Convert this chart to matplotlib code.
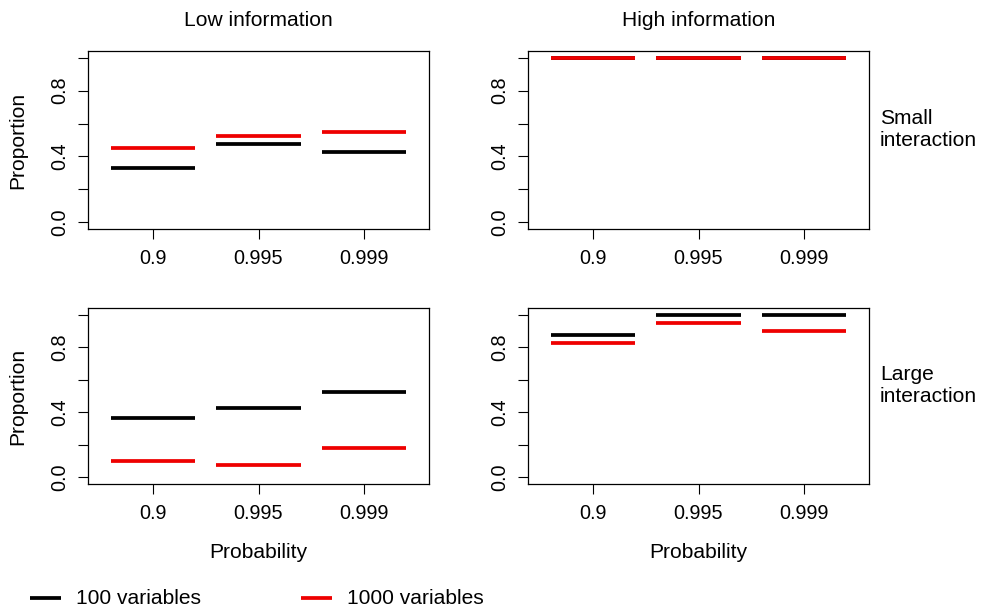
import matplotlib
matplotlib.use("Agg")
import matplotlib.pyplot as plt
import numpy as np

plt.rcParams["font.family"] = ["Liberation Sans", "DejaVu Sans"]

# Probability thresholds on the x axis
probabilities = ["0.9", "0.995", "0.999"]

# Proportions per panel: (information level, interaction size)
low_small_100 = [0.333, 0.476, 0.425]
low_small_1000 = [0.451, 0.524, 0.551]
high_small_100 = [1.0, 1.0, 1.0]
high_small_1000 = [1.0, 1.0, 1.0]
low_large_100 = [0.363, 0.424, 0.527]
low_large_1000 = [0.101, 0.079, 0.179]
high_large_100 = [0.874, 1.0, 1.0]
high_large_1000 = [0.825, 0.949, 0.898]

col_titles = ["Low information", "High information"]
row_titles = ["Small\ninteraction", "Large\ninteraction"]
legend_labels = ["100 variables", "1000 variables"]
series_colors = ["black", "#ee0000"]

W, H = 982, 612
fig = plt.figure(figsize=(W / 100, H / 100), dpi=100)

TICK_FS = 14.3
LAB_FS = 15.1
SEG_LW = 2.7


def px_rect(x0, y0, x1, y1):
    return [x0 / W, 1 - y1 / H, (x1 - x0) / W, (y1 - y0) / H]


panels = [
    (px_rect(88, 51, 429, 229), low_small_100, low_small_1000, 0, 0),
    (px_rect(528, 51, 869, 229), high_small_100, high_small_1000, 0, 1),
    (px_rect(88, 308, 429, 484), low_large_100, low_large_1000, 1, 0),
    (px_rect(528, 308, 869, 484), high_large_100, high_large_1000, 1, 1),
]

xs = np.arange(1, len(probabilities) + 1)
for rect, s100, s1000, r, c in panels:
    ax = fig.add_axes(rect)
    for vals, colr in zip([s100, s1000], series_colors):
        lc = ax.hlines(vals, xs - 0.4, xs + 0.4, colors=colr, linewidth=SEG_LW)
        lc.set_capstyle("butt")
    ax.set_xlim(0.38, 3.62)
    ax.set_ylim(-0.04, 1.04)
    ax.set_xticks(xs)
    ax.set_xticklabels(probabilities, fontsize=TICK_FS)
    ax.set_yticks([0.0, 0.2, 0.4, 0.6, 0.8, 1.0])
    ax.set_yticklabels(["0.0", "", "0.4", "", "0.8", ""], fontsize=TICK_FS,
                       rotation=90, va="center")
    ax.tick_params(axis="both", direction="out", length=7.2, width=0.8,
                   color="black")
    ax.tick_params(axis="x", pad=7.5)
    ax.tick_params(axis="y", pad=6)
    for sp in ax.spines.values():
        sp.set_linewidth(0.9)
    if c == 0:
        cy = (rect[1] + rect[3] / 2)
        fig.text(18 / W, cy, "Proportion", rotation=90, ha="center",
                 va="center", fontsize=LAB_FS)
    if r == 1:
        cx = rect[0] + rect[2] / 2
        fig.text(cx, 1 - 552 / H, "Probability", ha="center", va="center",
                 fontsize=LAB_FS)
    if r == 0:
        cx = rect[0] + rect[2] / 2
        fig.text(cx, 1 - 21 / H, col_titles[c], ha="center", va="center",
                 fontsize=LAB_FS)

fig.text(880 / W, 1 - 129 / H, row_titles[0], ha="left", va="center",
         fontsize=LAB_FS, linespacing=1.2)
fig.text(880 / W, 1 - 386 / H, row_titles[1], ha="left", va="center",
         fontsize=LAB_FS, linespacing=1.2)

# Legend drawn along the bottom edge
leg_ax = fig.add_axes([0, 0, 1, 1], facecolor="none")
leg_ax.set_xlim(0, W)
leg_ax.set_ylim(H, 0)
leg_ax.axis("off")
leg_x = [30, 301]
for x0, lab, colr in zip(leg_x, legend_labels, series_colors):
    leg_ax.plot([x0, x0 + 31], [598, 598], color=colr, linewidth=SEG_LW,
                solid_capstyle="butt")
    leg_ax.text(x0 + 46, 598, lab, ha="left", va="center", fontsize=LAB_FS)

fig.savefig("out.png", dpi=100)
